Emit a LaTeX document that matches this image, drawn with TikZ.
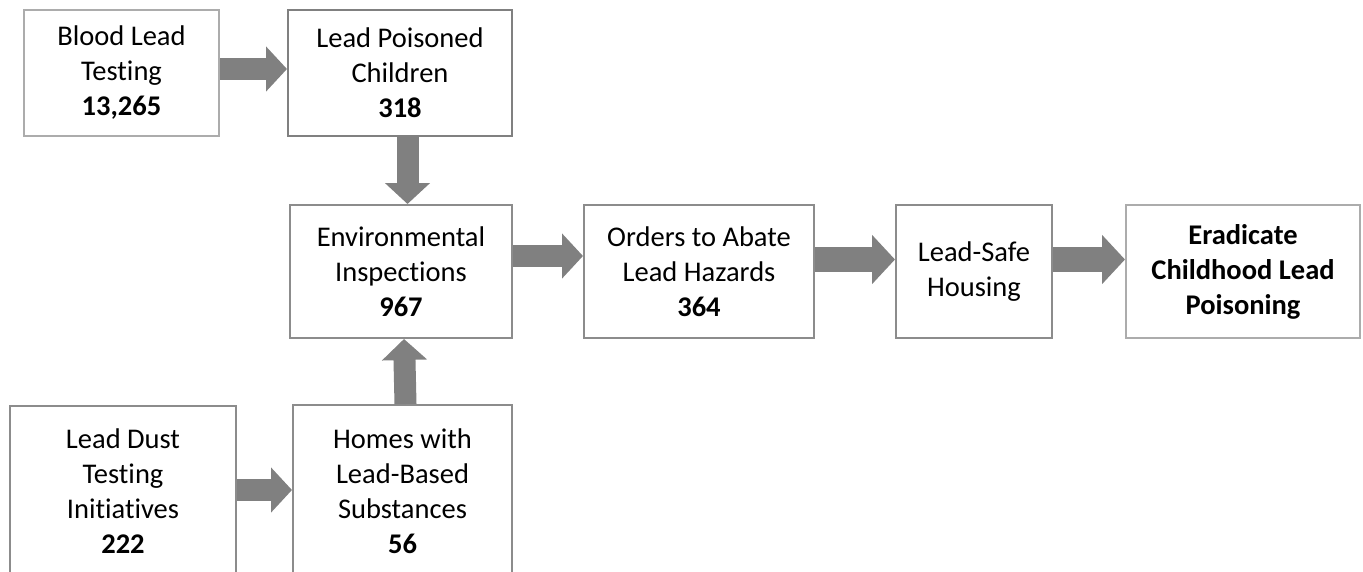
\documentclass[tikz,border=0pt]{standalone}
\usepackage{fontspec}
\setmainfont{Carlito}[Ligatures=NoCommon]
\usetikzlibrary{arrows.meta}

\newcommand{\nolig}{\kern0pt}
\tikzset{
	box/.style={draw=gray!90, line width=2pt, fill=white, align=center, inner sep=0pt,
		font=\fontsize{28.5}{35}\selectfont},
	lightbox/.style={box, draw=gray!65},
	flow/.style={draw=gray, line width=22pt, -{Triangle[length=21pt,width=44pt]}},
	bigflow/.style={draw=gray, line width=25pt, -{Triangle[length=23pt,width=48pt]}}
}

\begin{document}
\begin{tikzpicture}[x=1pt,y=-1pt]
	\useasboundingbox (0,0) rectangle (1363,571);
	\node[lightbox, minimum width=195pt, minimum height=126pt] (blood) at (121.5,73) {Blood Lead\\Test\nolig ing\\\textbf{13,265}};
	\node[box, draw=gray, minimum width=224pt, minimum height=126pt] (poisoned) at (400,73) {Lead Poisoned\\Children\\\textbf{318}};
	\node[box, minimum width=222pt, minimum height=133pt] (env) at (401,271.5) {Environmental\\Inspections\\\textbf{967}};
	\node[box, minimum width=230pt, minimum height=133pt] (orders) at (699,271.5) {Orders to Abate\\Lead Hazards\\\textbf{364}};
	\node[box, minimum width=156pt, minimum height=133pt] (safe) at (974,271.5) {Lead-Safe\\Housing};
	\node[lightbox, minimum width=234pt, minimum height=133pt, font=\fontsize{28.5}{35}\selectfont\bfseries] (erad) at (1243,271.5) {Eradicate\\Childhood Lead\\Poisoning};
	\node[box, minimum width=226pt, minimum height=170pt] (dust) at (123,491) {Lead Dust\\Test\nolig ing\\Init\nolig iat\nolig ives\\\textbf{222}};
	\node[box, minimum width=219pt, minimum height=172pt] (homes) at (402.5,491) {Homes with\\Lead-Based\\Substances\\\textbf{56}};

	\draw[flow] ([yshift=4pt]blood.east) -- ([yshift=4pt]poisoned.west);
	\draw[flow] ([xshift=7.5pt]poisoned.south) -- ([xshift=6.5pt]env.north);
	\draw[flow] ([xshift=3pt]homes.north) -- ([xshift=3pt]env.south);
	\draw[flow] ([yshift=15.5pt]env.east) -- ([yshift=15.5pt]orders.west);
	\draw[bigflow] ([yshift=12pt]orders.east) -- ([yshift=12pt]safe.west);
	\draw[bigflow] ([yshift=12pt]safe.east) -- ([yshift=12pt]erad.west);
	\draw[flow] ([yshift=1pt]dust.east) -- ([yshift=1pt]homes.west);
	%\draw[gray] (0,0) rectangle (1363,571);
\end{tikzpicture}
\end{document}
